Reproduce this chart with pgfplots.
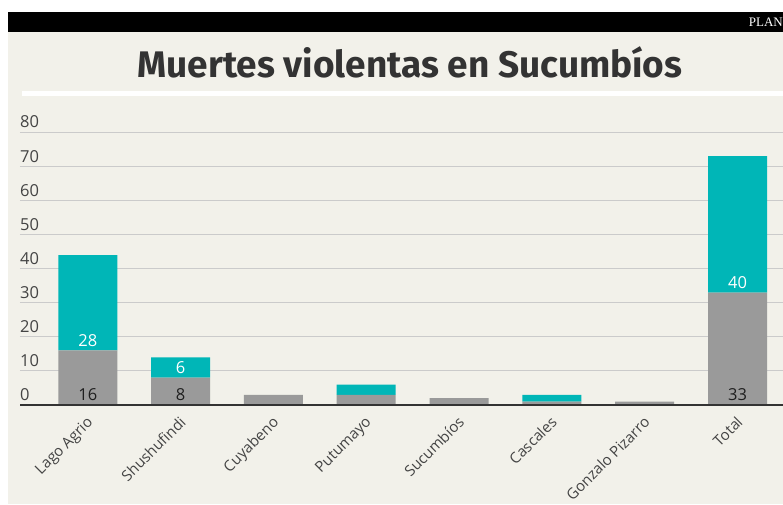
\documentclass[border=0pt]{standalone}
\usepackage{pgfplots}
\usepackage{pgfplotstable}
\pgfplotsset{compat=1.18}
\usepackage{fontspec}
\setmainfont{Open Sans}
\newfontfamily\titlefont{Fira Sans}
\newfontfamily\seriffont{Liberation Serif}
\definecolor{bg}{HTML}{F2F1EA}
\definecolor{tealbar}{HTML}{00B6B7}
\definecolor{graybar}{HTML}{9A9A9A}
\definecolor{gridc}{HTML}{CBCBCB}
\definecolor{ink}{HTML}{333333}
\definecolor{lab}{HTML}{444444}

\pgfplotstableread{
x gray teal
0 16 28
1 8 6
2 3 0
3 3 3
4 2 0
5 1 2
6 1 0
7 33 40
}\data

\tikzset{vlab/.style={anchor=base, font=\fontsize{16.5}{16.5}\selectfont, inner sep=0pt}}

\begin{document}
\begin{tikzpicture}[x=1pt,y=1pt]
\useasboundingbox (0,0) rectangle (783,504);
\fill[white] (0,0) rectangle (783,504);
\fill[bg] (8,0) rectangle (783,472);
\fill[black] (8,472) rectangle (783,492);
\node[anchor=east, text=white, font=\seriffont\fontsize{13}{13}\selectfont, inner sep=0pt] at (783,481.5) {PLAN};
\fill[white] (22,408) rectangle (783,413);
\node[font=\titlefont\bfseries\fontsize{37}{37}\selectfont, text=ink] at (410,442) {Muertes violentas en Sucumbíos};
\begin{axis}[
  at={(20pt,99pt)}, anchor=south west,
  scale only axis, width=763pt, height=272.7pt,
  xmin=-0.73, xmax=7.49, ymin=0, ymax=80,
  ybar stacked, bar width=59pt,
  axis line style={draw=none},
  major tick length=0pt,
  ytick={0,10,...,80},
  ymajorgrids, grid style={gridc, line width=1pt},
  /pgf/number format/assume math mode=true,
  yticklabel style={anchor=south west, inner sep=0pt, yshift=4pt, text=lab, font=\fontsize{16.5}{16.5}\selectfont},
  xtick={0,...,7},
  xticklabels={Lago Agrio,Shushufindi,Cuyabeno,Putumayo,Sucumbíos,Cascales,Gonzalo Pizarro,Total},
  xticklabel style={xshift=-2pt, yshift=-10pt, rotate=45, anchor=north east, inner sep=0pt, text=lab, font=\fontsize{15}{15}\selectfont},
  clip=false,
]
\addplot[fill=graybar, draw=none] table[x=x, y=gray] {\data};
\addplot[fill=tealbar, draw=none] table[x=x, y=teal] {\data};
\coordinate (L) at (axis cs:-0.73,0);
\coordinate (R) at (axis cs:7.49,0);
\coordinate (g0) at (axis cs:0,0);
\coordinate (g1) at (axis cs:1,0);
\coordinate (g7) at (axis cs:7,0);
\coordinate (t0) at (axis cs:0,16);
\coordinate (t1) at (axis cs:1,8);
\coordinate (t7) at (axis cs:7,33);
\end{axis}
\draw[ink, line width=2.5pt] (L) -- (R);
\node[vlab, text=black!88] at ([yshift=4.5pt]g0) {16};
\node[vlab, text=black!88] at ([yshift=4.5pt]g1) {8};
\node[vlab, text=black!88] at ([yshift=4.5pt]g7) {33};
\node[vlab, text=white] at ([yshift=4pt]t0) {28};
\node[vlab, text=white] at ([yshift=4pt]t1) {6};
\node[vlab, text=white] at ([yshift=4pt]t7) {40};
\end{tikzpicture}
\end{document}
